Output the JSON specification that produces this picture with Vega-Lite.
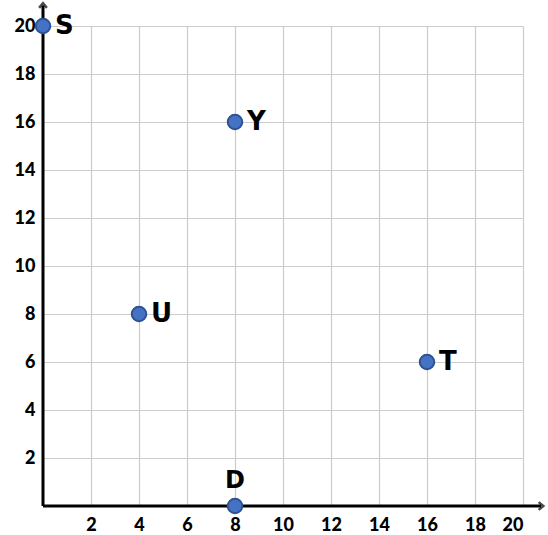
{
  "$schema": "https://vega.github.io/schema/vega-lite/v6.json",
  "width": 480,
  "height": 480,
  "autosize": "none",
  "padding": {"left": 43, "top": 26, "right": 25, "bottom": 29},
  "background": "white",
  "config": {"view": {"stroke": null}},
  "datasets": {
    "points": [
      {"name": "S", "x": 0, "y": 20, "pos": "right"},
      {"name": "Y", "x": 8, "y": 16, "pos": "right"},
      {"name": "U", "x": 4, "y": 8, "pos": "right"},
      {"name": "T", "x": 16, "y": 6, "pos": "right"},
      {"name": "D", "x": 8, "y": 0, "pos": "top"}
    ],
    "axes": [
      {"x": 0, "y": 0, "x2": 20.75, "y2": 0},
      {"x": 0, "y": 0, "x2": 0, "y2": 20.85}
    ],
    "arrows": [
      {"x": 20.75, "y": 0, "angle": 90},
      {"x": 0, "y": 20.85, "angle": 0}
    ]
  },
  "layer": [
    {
      "data": {"name": "axes"},
      "mark": {"type": "rule", "color": "black", "strokeWidth": 3, "clip": false},
      "encoding": {
        "x": {"field": "x", "type": "quantitative", "scale": {"domain": [0, 20], "nice": false},
          "axis": {"values": [2,4,6,8,10,12,14,16,18,20], "grid": true, "gridColor": "#cccccc", "gridWidth": 1.2, "domain": false, "ticks": false, "labelFont": "Lato", "labelFontWeight": 900, "labelFontSize": 18, "labelColor": "black", "labelPadding": 10, "title": null}},
        "y": {"field": "y", "type": "quantitative", "scale": {"domain": [0, 20], "nice": false},
          "axis": {"values": [2,4,6,8,10,12,14,16,18,20], "grid": true, "gridColor": "#cccccc", "gridWidth": 1.2, "domain": false, "ticks": false, "labelFont": "Lato", "labelFontWeight": 900, "labelFontSize": 18, "labelColor": "black", "labelPadding": 8, "title": null}},
        "x2": {"field": "x2"},
        "y2": {"field": "y2"}
      }
    },
    {
      "data": {"name": "arrows"},
      "mark": {"type": "point", "shape": "M-1,0.6L0,-0.6L1,0.6", "filled": false, "stroke": "black", "strokeWidth": 2.5, "size": 60, "clip": false},
      "encoding": {
        "x": {"field": "x", "type": "quantitative"},
        "y": {"field": "y", "type": "quantitative"},
        "angle": {"field": "angle", "type": "quantitative", "scale": null}
      }
    },
    {
      "data": {"name": "points"},
      "mark": {"type": "circle", "size": 210, "color": "#4472C4", "opacity": 1, "stroke": "#2F528F", "strokeWidth": 2, "clip": false},
      "encoding": {
        "x": {"field": "x", "type": "quantitative"},
        "y": {"field": "y", "type": "quantitative"}
      }
    },
    {
      "data": {"name": "points"},
      "transform": [{"filter": "datum.pos == 'right'"}],
      "mark": {"type": "text", "align": "left", "baseline": "middle", "dx": 12, "dy": 0, "font": "DejaVu Sans", "fontWeight": "bold", "fontSize": 26, "color": "black", "clip": false},
      "encoding": {
        "x": {"field": "x", "type": "quantitative"},
        "y": {"field": "y", "type": "quantitative"},
        "text": {"field": "name"}
      }
    },
    {
      "data": {"name": "points"},
      "transform": [{"filter": "datum.pos == 'top'"}],
      "mark": {"type": "text", "align": "center", "baseline": "alphabetic", "dy": -18, "font": "DejaVu Sans", "fontWeight": "bold", "fontSize": 24, "color": "black", "clip": false},
      "encoding": {
        "x": {"field": "x", "type": "quantitative"},
        "y": {"field": "y", "type": "quantitative"},
        "text": {"field": "name"}
      }
    }
  ]
}
